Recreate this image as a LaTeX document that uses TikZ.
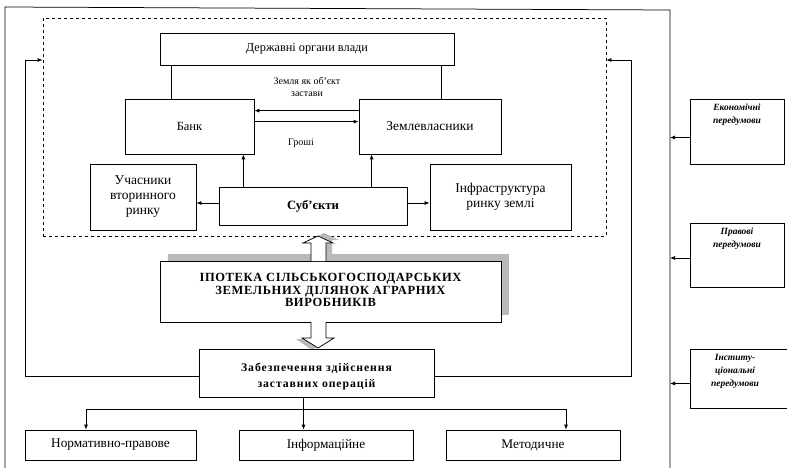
\documentclass[tikz,border=0pt]{standalone}
\usepackage{fontspec}
\setmainfont{Liberation Serif}
\usetikzlibrary{arrows.meta,calc}
\begin{document}
\begin{tikzpicture}[x=1pt,y=-1pt,line width=0.75pt,
  box/.style={draw,fill=white,inner sep=1pt,align=center,font=\fontsize{12}{15}\selectfont},
  rbox/.style={draw,fill=white,minimum width=94pt},
  rtext/.style={align=center,inner sep=0pt,font=\fontsize{9.5}{13}\selectfont\bfseries\itshape},
  lbl/.style={align=center,inner sep=0pt,font=\fontsize{10}{12}\selectfont},
  arr/.style={-{Latex[length=5pt,width=4pt]}},
  hollow/.style={draw,fill=white,line width=0.75pt},
  shade/.style={fill=black!27}]
\useasboundingbox (0,0) rectangle (787,468);
\fill[white] (0,0) rectangle (787,468);
% outer frame
\draw (5,468) -- (5,7) -- (670,10) -- (670,468);
\coordinate (frameR) at (670,0);
% inner dashed area
\node[draw,dashed,minimum width=563pt,minimum height=218pt,inner sep=0pt] (inner) at (324.5,127) {};
% top boxes
\node[box,minimum width=294pt,minimum height=32pt,font=\fontsize{12.3}{15}\selectfont] (derzh) at (307,49) {Державні органи влади};
\node[box,minimum width=129pt,minimum height=55pt,font=\fontsize{12.5}{15}\selectfont] (bank) at (189.5,126.5) {\raisebox{-5pt}{Банк}};
\node[box,minimum width=142pt,minimum height=55pt,font=\fontsize{13.5}{15}\selectfont] (zem) at (430,126.5) {Землевласники};
\node[box,minimum width=106pt,minimum height=66pt,font=\fontsize{13.5}{15}\selectfont] (uch) at (143,197) {Учасники\\вторинного\\ринку};
\node[box,minimum width=188pt,minimum height=38pt,font=\fontsize{12.7}{15}\selectfont\bfseries] (subj) at (313,206) {Суб’єкти};
\node[box,minimum width=141pt,minimum height=66pt,font=\fontsize{13.5}{15}\selectfont] (infra) at (500.5,197) {\raisebox{4pt}{\begin{tabular}{@{}c@{}}Інфраструктура\\[-1pt]ринку землі\end{tabular}}};
\node[lbl] (l1) at (307,87) {Земля як об’єкт\\застави};
\node[lbl] (l2) at (301,143) {Гроші};
% connectors in top area
\draw ([xshift=47pt]bank.north west) -- ([xshift=47pt]bank.north west |- derzh.south);
\draw ([xshift=83pt]zem.north west) -- ([xshift=83pt]zem.north west |- derzh.south);
\draw[arr] ([yshift=-12pt]zem.north west) -- ([yshift=-12pt]bank.north east);
\draw[arr] ([yshift=-23pt]bank.north east) -- ([yshift=-23pt]zem.north west);
\draw[arr] ([xshift=-11pt]bank.south east |- subj.north) -- ([xshift=-11pt]bank.south east);
\draw[arr] ([xshift=13pt]zem.south west |- subj.north) -- ([xshift=13pt]zem.south west);
\draw[arr] ([yshift=3pt]subj.west) -- ([yshift=3pt]subj.west -| uch.east);
\draw[arr] ([yshift=3pt]subj.east) -- ([yshift=3pt]subj.east -| infra.west);
% mortgage box with shadow
\fill[shade] (168,254) rectangle (509,315);
\node[box,minimum width=341pt,minimum height=61pt,font=\fontsize{12.5}{13.5}\selectfont\bfseries\addfontfeature{LetterSpace=5}] (ipo) at (330.5,291.5) {\raisebox{3pt}{\begin{tabular}{@{}c@{}}ІПОТЕКА СІЛЬСЬКОГОСПОДАРСЬКИХ\\[-1pt]ЗЕМЕЛЬНИХ ДІЛЯНОК АГРАРНИХ\\[-1pt]ВИРОБНИКІВ\end{tabular}}};
% hollow arrows
\fill[shade] (317,258) -- (317,240) -- (309,240) -- (324,233) -- (339,240) -- (332,240) -- (332,258) -- cycle;
\draw[hollow] (311,261) -- (311,243) -- (303,243) -- (318,236) -- (333,243) -- (326,243) -- (326,261);
\fill[shade] (305,339) -- (296,339) -- (312,350) -- (320,345) -- cycle;
\draw[hollow] (311,322) -- (311,338) -- (302,338) -- (318,348) -- (334,338) -- (326,338) -- (326,322);
% provision box
\node[box,minimum width=235pt,minimum height=48pt] (zab) at (316.5,373) {};
\node[align=center,inner sep=0pt,font=\fontsize{11.7}{16}\selectfont\bfseries\addfontfeature{LetterSpace=8}] (zabt) at ([yshift=-4pt]zab.center) {Забезпечення здійснення\\заставних операцій};
% feedback lines
\coordinate (lc) at (25,60);
\coordinate (rc) at (631,60);
\draw[arr] ([yshift=-3pt]zab.west) -| (lc) -- (lc -| inner.west);
\draw[arr] ([yshift=-3pt]zab.east) -| (rc) -- (rc -| inner.east);
% bottom boxes
\node[box,minimum width=171pt,minimum height=30pt,font=\fontsize{13.3}{14}\selectfont] (norm) at (110.5,445) {Нормативно-правове};
\node[box,minimum width=174pt,minimum height=30pt,font=\fontsize{13.3}{14}\selectfont] (info) at (326,445) {Інформаційне};
\node[box,minimum width=174pt,minimum height=30pt,font=\fontsize{13.3}{14}\selectfont] (met) at (533,445) {Методичне};
\coordinate (bl) at (86,409);
\coordinate (br) at (566,409);
\draw (bl) -- (br);
\draw[arr] (bl) -- (bl |- norm.north);
\draw[arr] (br) -- (br |- met.north);
\draw[arr] ([xshift=-13pt]zab.south) -- ([xshift=-13pt]zab.south |- info.north);
% right-hand boxes
\node[rbox,minimum height=65pt] (eco) at (737,131.5) {};
\node[rtext,anchor=north] (ecot) at ([yshift=-5pt]eco.north) {Економічні\\передумови};
\node[rbox,minimum height=64pt] (prav) at (737,255) {};
\node[rtext,anchor=north] (pravt) at ([yshift=-5pt]prav.north) {Правові\\передумови};
\node[rbox,minimum width=100pt,minimum height=59pt] (inst) at (740,378.5) {};
\node[rtext,anchor=north] (instt) at ([yshift=-5pt,xshift=-5pt]inst.north) {Інститу-\\ціональні\\передумови};
\draw[arr] ([yshift=-6pt]eco.west) -- ([yshift=-6pt]eco.west -| frameR);
\draw[arr] ([yshift=-3pt]prav.west) -- ([yshift=-3pt]prav.west -| frameR);
\draw[arr] ([yshift=-5pt]inst.west) -- ([yshift=-5pt]inst.west -| frameR);
\end{tikzpicture}
\end{document}
